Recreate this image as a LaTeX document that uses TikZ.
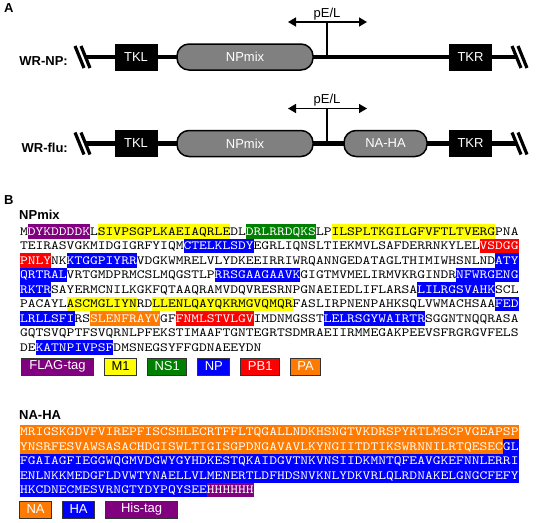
\documentclass[tikz,border=0pt]{standalone}
\usepackage{fontspec}
\setmainfont{Liberation Sans}
\newfontfamily\seqfont[FakeStretch=1.187]{lmmono10-regular.otf}
\usetikzlibrary{positioning,arrows.meta}

\definecolor{flagpurple}{RGB}{128,0,128}
\definecolor{mone}{RGB}{255,255,0}
\definecolor{nsone}{RGB}{0,128,0}
\definecolor{npblue}{RGB}{0,0,255}
\definecolor{pbred}{RGB}{255,0,0}
\definecolor{paorange}{RGB}{255,122,0}

\newcommand{\lbl}{\fontsize{13}{15}\selectfont}
\newcommand{\seqsize}{\seqfont\fontsize{12.5}{14.5}\selectfont}
% highlighted stretch of sequence
\newcommand{\seqhl}[3]{{\setlength{\fboxsep}{0pt}\colorbox{#1}{\color{#2}\rule[-3.7pt]{0pt}{14.5pt}#3}}}
\newcommand{\hlw}[2]{\seqhl{#1}{white}{#2}}
\newcommand{\hly}[1]{\seqhl{mone}{black}{#1}}

\tikzset{
    backbone/.style={line width=4.5pt},
    hashbar/.style={line width=3.2pt},
    tkbox/.style={rectangle, fill=black, draw=black, text=white, minimum width=42pt, minimum height=26pt, inner sep=0pt, font=\lbl},
    genebox/.style={rectangle, rounded corners=12pt, fill=gray, draw=black, line width=1.5pt, text=white, minimum height=26pt, inner sep=0pt, font=\lbl},
    promoter/.style={line width=1.5pt},
    seqrow/.style={anchor=base west, inner sep=0pt, font=\seqsize},
    legbox/.style={rectangle, draw=black!80, line width=1pt, minimum height=17pt, inner xsep=7pt, inner ysep=0pt, text=white, font=\lbl},
    panel/.style={inner sep=0pt, font=\bfseries\lbl}
}

\begin{document}
\begin{tikzpicture}[x=1pt, y=-1pt]
    \useasboundingbox (0,0) rectangle (537,522);

    %-----Panel A-----
    \node[panel, anchor=west] (pA) at (4,8) {A};

    % WR-NP construct
    \coordinate (np-l) at (85.5,57);
    \coordinate (np-r) at (516.5,57);
    \draw[backbone] (np-l) -- (np-r);
    \draw[hashbar] (np-l) ++(-10.5,-11) -- ++(9,22);
    \draw[hashbar] (np-l) ++(-4.5,-11) -- ++(9,22);
    \draw[hashbar] (np-r) ++(-4.5,-11) -- ++(9,22);
    \draw[hashbar] (np-r) ++(1.5,-11) -- ++(9,22);
    \node[panel, anchor=east] (wrnp) at (68,61) {WR-NP:};
    \node[tkbox] (tkl1) at (136,57) {TKL};
    \node[genebox, minimum width=136pt] (npmix1) at (245,57) {NPmix};
    \node[tkbox] (tkr1) at (470.5,57) {TKR};
    % promoter
    \coordinate (pel1) at (327,57);
    \draw[promoter] (pel1) -- ++(0,-35) coordinate (pel1-top);
    \draw[promoter, {Triangle[length=8pt,width=9pt]}-{Triangle[length=8pt,width=9pt]}] ([xshift=-39pt]pel1-top) -- ([xshift=40pt]pel1-top);
    \node[inner sep=0pt, font=\lbl, above=2pt of pel1-top] (pelabel1) {pE/L};

    % WR-flu construct
    \coordinate (flu-l) at (85.5,143.5);
    \coordinate (flu-r) at (516.5,143.5);
    \draw[backbone] (flu-l) -- (flu-r);
    \draw[hashbar] (flu-l) ++(-10.5,-11) -- ++(9,22);
    \draw[hashbar] (flu-l) ++(-4.5,-11) -- ++(9,22);
    \draw[hashbar] (flu-r) ++(-4.5,-11) -- ++(9,22);
    \draw[hashbar] (flu-r) ++(1.5,-11) -- ++(9,22);
    \node[panel, anchor=east] (wrflu) at (68,148) {WR-flu:};
    \node[tkbox] (tkl2) at (136,143.5) {TKL};
    \node[genebox, minimum width=136pt] (npmix2) at (245,143.5) {NPmix};
    \node[genebox, minimum width=83pt] (naha2) at (385.5,143.5) {NA-HA};
    \node[tkbox] (tkr2) at (470.5,143.5) {TKR};
    % promoter
    \coordinate (pel2) at (327,143.5);
    \draw[promoter] (pel2) -- ++(0,-35) coordinate (pel2-top);
    \draw[promoter, {Triangle[length=8pt,width=9pt]}-{Triangle[length=8pt,width=9pt]}] ([xshift=-39pt]pel2-top) -- ([xshift=40pt]pel2-top);
    \node[inner sep=0pt, font=\lbl, above=2pt of pel2-top] (pelabel2) {pE/L};

    %-----Panel B-----
    \node[panel, anchor=west] (pB) at (4,200) {B};

    % NPmix sequence
    \node[panel, anchor=west] (npmixhead) at (19,214.5) {NPmix};
    \node[seqrow] (np1) at (19.8,235) {M\hlw{flagpurple}{DYKDDDDK}L\hly{SIVPSGPLKAEIAQRLE}DL\hlw{nsone}{DRLRRDQKS}LP\hly{ILSPLTKGILGFVFTLTVERG}PNA};
    \node[seqrow] (np2) at (19.8,249.5) {TEIRASVGKMIDGIGRFYIQM\hlw{npblue}{CTELKLSDY}EGRLIQNSLTIEKMVLSAFDERRNKYLEL\hlw{pbred}{VSDGG}};
    \node[seqrow] (np3) at (19.8,264) {\hlw{pbred}{PNLY}NK\hlw{npblue}{KTGGPIYRR}VDGKWMRELVLYDKEEIRRIWRQANNGEDATAGLTHIMIWHSNLND\hlw{npblue}{ATY}};
    \node[seqrow] (np4) at (19.8,278.5) {\hlw{npblue}{QRTRAL}VRTGMDPRMCSLMQGSTLP\hlw{npblue}{RRSGAAGAAVK}GIGTMVMELIRMVKRGINDR\hlw{npblue}{NFWRGENG}};
    \node[seqrow] (np5) at (19.8,293) {\hlw{npblue}{RKTR}SAYERMCNILKGKFQTAAQRAMVDQVRESRNPGNAEIEDLIFLARSA\hlw{npblue}{LILRGSVAHK}SCL};
    \node[seqrow] (np6) at (19.8,307.5) {PACAYL\hly{ASCMGLIYN}RD\hly{LLENLQAYQKRMGVQMQR}FASLIRPNENPAHKSQLVWMACHSAA\hlw{npblue}{FED}};
    \node[seqrow] (np7) at (19.8,322) {\hlw{npblue}{LRLLSFI}RS\hlw{paorange}{SLENFRAYV}GF\hlw{pbred}{FNMLSTVLGV}IMDNMGSST\hlw{npblue}{LELRSGYWAIRTR}SGGNTNQQRASA};
    \node[seqrow] (np8) at (19.8,336.5) {GQTSVQPTFSVQRNLPFEKSTIMAAFTGNTEGRTSDMRAEIIRMMEGAKPEEVSFRGRGVFELS};
    \node[seqrow] (np9) at (19.8,351) {DE\hlw{npblue}{KATNPIVPSF}DMSNEGSYFFGDNAEEYDN};

    % NPmix legend
    \node[legbox, fill=flagpurple, anchor=west, minimum width=72pt] (legflag) at (21,366.5) {FLAG-tag};
    \node[legbox, fill=mone, text=black, right=10pt of legflag] (legmone) {M1};
    \node[legbox, fill=nsone, right=10pt of legmone] (legnsone) {NS1};
    \node[legbox, fill=npblue, right=10pt of legnsone] (legnp) {NP};
    \node[legbox, fill=pbred, right=10pt of legnp] (legpb) {PB1};
    \node[legbox, fill=paorange, right=10pt of legpb] (legpa) {PA};

    % NA-HA sequence
    \node[panel, anchor=west] (nahahead) at (19,415) {NA-HA};
    \node[seqrow] (ha1) at (19.8,435.7) {\hlw{paorange}{MRIGSKGDVFVIREPFISCSHLECRTFFLTQGALLNDKHSNGTVKDRSPYRTLMSCPVGEAPSP}};
    \node[seqrow] (ha2) at (19.8,450.2) {\hlw{paorange}{YNSRFESVAWSASACHDGISWLTIGISGPDNGAVAVLKYNGIITDTIKSWRNNILRTQESEC}\hlw{npblue}{GL}};
    \node[seqrow] (ha3) at (19.8,464.7) {\hlw{npblue}{FGAIAGFIEGGWQGMVDGWYGYHDKESTQKAIDGVTNKVNSIIDKMNTQFEAVGKEFNNLERRI}};
    \node[seqrow] (ha4) at (19.8,479.2) {\hlw{npblue}{ENLNKKMEDGFLDVWTYNAELLVLMENERTLDFHDSNVKNLYDKVRLQLRDNAKELGNGCFEFY}};
    \node[seqrow] (ha5) at (19.8,493.7) {\hlw{npblue}{HKCDNECMESVRNGTYDYPQYSEE}\hlw{flagpurple}{HHHHHH}};

    % NA-HA legend
    \node[legbox, fill=paorange, anchor=west] (legna) at (19,509.5) {NA};
    \node[legbox, fill=npblue, right=10pt of legna] (legha) {HA};
    \node[legbox, fill=flagpurple, minimum width=72pt, right=10pt of legha] (leghis) {His-tag};

\end{tikzpicture}
\end{document}
